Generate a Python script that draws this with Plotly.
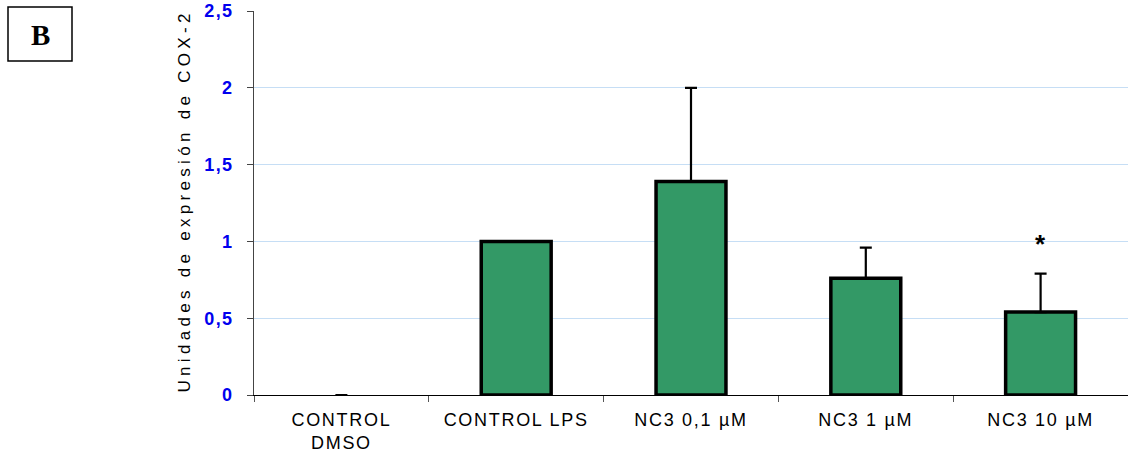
import plotly.graph_objects as go

categories = ["CONTROL<br>DMSO", "CONTROL LPS", "NC3 0,1 µM", "NC3 1 µM", "NC3 10 µM"]
values = [0.0, 1.0, 1.39, 0.76, 0.54]
err_up = [0.0, 0.0, 0.61, 0.20, 0.25]
y_ticks = [0, 0.5, 1, 1.5, 2, 2.5]
y_tick_labels = ["0", "0,5", "1", "1,5", "2", "2,5"]
y_title = "Unidades de expresión de COX-2"
star_category = "NC3 10 µM"
star_y = 0.98

W, H = 1128, 452
L, R, T, B = 254, 0, 11, 57
pw, ph = W - L - R, H - T - B

def px_x(x):
    return (x - L) / pw

def px_y(y):
    return (H - B - y) / ph

font = "Arial, 'Liberation Sans', sans-serif"

# empty baseline bar gets no outline, only its error cap shows
outline_w = [0 if v == 0 else 3.5 for v in values]

fig = go.Figure(go.Bar(
    x=categories,
    y=values,
    width=0.4,
    marker=dict(color="#339966", line=dict(color="black", width=outline_w)),
    error_y=dict(type="data", symmetric=False, array=err_up,
                 arrayminus=[0] * len(err_up), color="black",
                 thickness=2.2, width=6),
))

# annotation 0: significance mark
fig.add_annotation(x=star_category, y=star_y, text="<b>*</b>", showarrow=False,
                   xanchor="center", yanchor="middle",
                   font=dict(family=font, size=26, color="black"))

# boxed panel letter (annotation 1)
fig.add_shape(type="rect", xref="paper", yref="paper",
              x0=px_x(8), x1=px_x(72), y0=px_y(61), y1=px_y(7),
              line=dict(color="black", width=1.5), fillcolor="white")
fig.add_annotation(xref="paper", yref="paper", x=px_x(40), y=px_y(35),
                   xanchor="center", yanchor="middle",
                   text="<b>B</b>", showarrow=False,
                   font=dict(family="'Liberation Serif', 'Times New Roman', serif",
                             size=29, color="black"))

# vertical axis title (annotation 2)
fig.add_annotation(xref="paper", yref="paper", x=px_x(184), y=px_y(201),
                   xanchor="center", yanchor="middle", textangle=-90,
                   text=y_title, showarrow=False,
                   font=dict(family=font, size=17, color="black"))

fig.update_layout(
    width=W, height=H,
    margin=dict(l=L, r=R, t=T, b=B),
    plot_bgcolor="white", paper_bgcolor="white",
    showlegend=False,
    font=dict(family=font),
    xaxis=dict(
        showline=True, linecolor="black", linewidth=1,
        ticks="outside", tickson="boundaries", ticklen=6, tickcolor="#555",
        tickfont=dict(family=font, size=18, color="black"),
        ticklabelstandoff=8,
        showgrid=False,
    ),
    yaxis=dict(
        range=[0, 2.5],
        tickvals=y_ticks, ticktext=y_tick_labels,
        showline=True, linecolor="#444", linewidth=1.2,
        ticks="outside", ticklen=6, tickcolor="#444",
        tickfont=dict(family=font, size=18, color="#0000ee", weight="bold"),
        ticklabelstandoff=10,
        showgrid=True, gridcolor="#c6def5", gridwidth=1,
        zeroline=False,
    ),
)

fig.write_html("out.html", post_script=(
    "var s=document.createElement('style');"
    "s.textContent='.annotation[data-index=\"2\"] text{letter-spacing:4.3px}"
    " .xtick text{letter-spacing:1.7px} .ytick text{letter-spacing:1.3px}';"
    "document.head.appendChild(s);"
))
